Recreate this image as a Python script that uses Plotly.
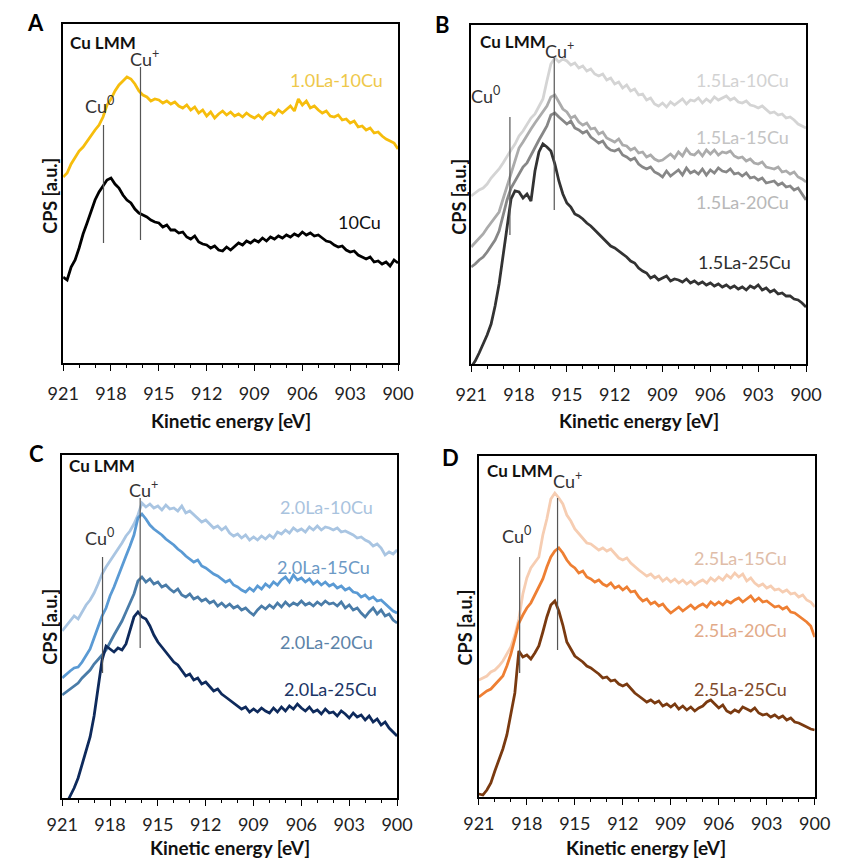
import plotly.graph_objects as go

FONT = "Lato"
W, H = 849, 864

# Kinetic energy grid (eV), 0.25 eV sampling from 921 down to 900
energy = [921.0 - 0.25 * i for i in range(85)]
tick_energies = [921, 918, 915, 912, 909, 906, 903, 900]

# ---------------- Panel A (CPS, a.u.) ----------------
A_1p0La_10Cu = [
    186, 190, 199, 205,
    212, 216, 222, 228,
    233, 238, 246, 258,
    264, 272, 278, 282,
    286, 284, 279, 272,
    268, 266, 262, 264,
    263, 260, 262, 259,
    261, 257, 255, 258,
    253, 256, 250, 253,
    247, 251, 245, 249,
    252, 248, 251, 247,
    249, 246, 250, 247,
    245, 248, 244, 249,
    251, 248, 253, 250,
    254, 257, 252, 264,
    258, 262, 255, 257,
    253, 250, 252, 247,
    246, 248, 243, 244,
    240, 242, 236, 237,
    233, 235, 230, 231,
    227, 224, 222, 220,
    214]
A_10Cu = [
    86, 83, 96, 103,
    115, 129, 140, 152,
    163, 171, 177, 183,
    185, 179, 175, 168,
    163, 160, 154, 150,
    148, 146, 143, 141,
    140, 136, 138, 133,
    133, 130, 131, 126,
    124, 127, 121, 119,
    118, 115, 117, 113,
    112, 116, 113, 117,
    120, 118, 122, 120,
    123, 121, 125, 122,
    126, 124, 127, 125,
    128, 126, 129, 127,
    131, 128, 130, 127,
    128, 125, 122, 121,
    118, 116, 117, 113,
    111, 112, 108, 106,
    104, 106, 101, 102,
    99, 101, 97, 103,
    100]

# ---------------- Panel B ----------------
B_1p5La_10Cu = [
    168, 171, 174, 176,
    180, 186, 190, 195,
    201, 208, 214, 220,
    228, 233, 240, 246,
    250, 258, 265, 283,
    300, 306, 302, 305,
    303, 299, 301, 296,
    298, 293, 295, 290,
    288, 290, 284, 286,
    280, 282, 276, 279,
    273, 275, 269, 270,
    264, 266, 260, 258,
    261, 257, 262, 259,
    262, 265, 260, 264,
    263, 266, 261, 265,
    262, 267, 264, 266,
    268, 264, 266, 262,
    261, 263, 259, 258,
    256, 258, 254, 251,
    252, 249, 250, 246,
    247, 244, 240, 238,
    236]
B_1p5La_15Cu = [
    117, 121, 126, 130,
    136, 141, 146, 152,
    165, 178, 190, 204,
    216, 222, 229, 235,
    241, 247, 253, 258,
    267, 269, 262, 255,
    252, 246, 248, 242,
    239, 241, 235, 236,
    230, 232, 226, 224,
    222, 225, 219, 218,
    214, 216, 211, 212,
    207, 209, 205, 203,
    204, 207, 210, 206,
    212, 208, 215, 210,
    209, 213, 208, 214,
    210, 214, 209, 212,
    211, 213, 208, 206,
    207, 203, 205, 201,
    200, 202, 197, 196,
    195, 197, 192, 193,
    190, 192, 187, 185,
    182]
B_1p5La_20Cu = [
    97, 100, 104, 107,
    112, 118, 124, 133,
    148, 164, 176, 183,
    190, 197, 201, 209,
    216, 224, 231, 238,
    249, 251, 247, 243,
    240, 243, 236, 234,
    231, 233, 227, 224,
    221, 223, 217, 214,
    213, 215, 209, 207,
    204, 206, 200, 197,
    195, 197, 192, 190,
    187, 193, 188, 191,
    194, 189, 196, 191,
    193, 190, 195, 189,
    194, 191, 196, 193,
    192, 195, 190, 191,
    188, 191, 186, 187,
    184, 186, 181, 182,
    183, 179, 181, 177,
    178, 174, 176, 170,
    164]
B_1p5La_25Cu = [
    -3, 3, 11, 20,
    29, 40, 58, 80,
    108, 140, 165, 173,
    172, 166, 170, 163,
    193, 212, 220, 217,
    213, 200, 183, 170,
    161, 157, 150, 148,
    145, 141, 138, 134,
    130, 127, 123, 118,
    116, 113, 110, 107,
    103, 101, 96, 93,
    91, 86, 88, 84,
    86, 88, 83, 85,
    84, 82, 85, 81,
    83, 80, 82, 79,
    81, 78, 80, 77,
    79, 76, 78, 75,
    77, 74, 78, 76,
    79, 74, 76, 72,
    74, 70, 71, 68,
    68, 65, 64, 61,
    57]

# ---------------- Panel C ----------------
C_2p0La_10Cu = [
    167, 172, 177, 182,
    179, 186, 193, 198,
    205, 214, 224, 231,
    237, 243, 248, 255,
    262, 267, 274, 283,
    295, 291, 294, 290,
    292, 288, 293, 289,
    290, 287, 292, 285,
    287, 283, 280, 276,
    278, 274, 270, 272,
    268, 271, 265, 262,
    264, 260, 263, 258,
    261, 258, 262, 259,
    263, 260, 266, 264,
    268, 265, 270, 267,
    269, 266, 271, 268,
    272, 268, 271, 270,
    268, 270, 266, 267,
    265, 263, 260, 261,
    258, 256, 252, 254,
    250, 243, 246, 244,
    248]
C_2p0La_15Cu = [
    120, 124, 127, 130,
    131, 136, 142, 149,
    160, 172, 182, 190,
    202, 211, 222, 232,
    242, 252, 263, 280,
    284, 279, 273, 269,
    266, 263, 259, 256,
    253, 249, 246, 242,
    239, 236, 238, 232,
    230, 227, 224, 222,
    219, 216, 218, 213,
    211, 208, 206, 210,
    207, 212, 209, 214,
    211, 216, 213, 218,
    221, 216, 223, 218,
    220, 216, 219, 214,
    217, 213, 216, 212,
    214, 210, 212, 208,
    210, 206, 205, 201,
    203, 199, 201, 197,
    198, 194, 190, 187,
    185]
C_2p0La_20Cu = [
    103, 106, 109, 112,
    115, 120, 124, 128,
    134, 138, 143, 148,
    156, 163, 170, 177,
    186, 196, 204, 217,
    221, 216, 219, 214,
    216, 211, 213, 209,
    206, 209, 203, 201,
    204, 199, 201, 197,
    199, 195, 197, 192,
    195, 191, 194, 190,
    192, 188, 190, 186,
    183, 188, 192, 189,
    193, 190, 195, 191,
    196, 192, 195, 193,
    197, 193, 195, 192,
    196, 193, 197, 194,
    195, 192, 196, 190,
    193, 188, 190, 185,
    181, 186, 190, 184,
    188, 182, 184, 178,
    175]
C_2p0La_25Cu = [
    -12, -6, 2, 10,
    20, 33, 46, 61,
    82, 108, 138, 152,
    149, 146, 150, 148,
    154, 168, 181, 186,
    181, 179, 172, 163,
    156, 151, 146, 140,
    136, 133, 128, 122,
    124, 118, 120, 114,
    116, 112, 107, 109,
    104, 101, 98, 95,
    92, 89, 91, 86,
    89, 86, 90, 87,
    85, 90, 86, 91,
    87, 92, 89, 94,
    90, 87, 91, 86,
    88, 84, 89, 85,
    86, 82, 87, 84,
    80, 85, 81, 83,
    78, 82, 76, 79,
    73, 76, 70, 66,
    62]

# ---------------- Panel D ----------------
D_2p5La_15Cu = [
    117, 119, 121, 125,
    127, 131, 136, 143,
    150, 162, 178, 203,
    219, 229, 235, 240,
    262, 278, 298, 304,
    299, 293, 282, 276,
    268, 263, 259, 254,
    253, 250, 247, 249,
    246, 248, 243, 239,
    237, 239, 234, 230,
    227, 224, 221, 223,
    219, 221, 216, 219,
    215, 218, 214, 217,
    213, 216, 212, 215,
    217, 214, 219, 216,
    220, 217, 222, 219,
    224, 220, 223, 216,
    219, 214, 211, 213,
    209, 211, 207, 208,
    205, 207, 203, 204,
    200, 202, 197, 195,
    190]
D_2p5La_20Cu = [
    100, 103, 106, 108,
    112, 116, 121, 131,
    143, 158, 174, 182,
    189, 194, 202, 209,
    218, 230, 240, 246,
    249, 244, 237, 232,
    229, 224, 226, 220,
    218, 215, 217, 213,
    211, 214, 209, 211,
    207, 210, 205, 206,
    200, 196, 198, 193,
    195, 191, 193, 188,
    184, 187, 190, 186,
    189, 192, 188, 191,
    193, 190, 195, 192,
    195, 192, 196, 194,
    197, 199, 195, 198,
    201, 196, 199, 195,
    196, 193, 190, 191,
    188, 190, 185, 184,
    181, 178, 175, 171,
    160]
D_2p5La_25Cu = [
    3, 2, 7, 14,
    26, 37, 48, 62,
    83, 104, 146, 140,
    142, 138, 144, 151,
    165, 180, 192, 196,
    186, 172, 155, 148,
    141, 138, 135, 131,
    129, 126, 123, 119,
    120, 116, 117, 113,
    111, 113, 108, 104,
    101, 98, 95, 97,
    94, 96, 91, 93,
    90, 93, 88, 91,
    87, 90, 86, 89,
    91, 95, 97, 93,
    89, 92, 86, 84,
    87, 85, 90, 88,
    86, 89, 84, 82,
    83, 80, 82, 79,
    81, 77, 79, 75,
    74, 72, 70, 68,
    67]

# Peak markers: [energy (eV), y_low, y_high]
A_Cu0, A_Cup = [918.47, 120, 238], [916.15, 123, 296]
B_Cu0, B_Cup = [918.57, 129, 247], [915.79, 154, 306]
C_Cu0, C_Cup = [918.47, 125, 241], [916.11, 150, 300]
D_Cu0, D_Cup = [918.45, 124, 240], [916.08, 147, 299]

panels = [
    dict(letter="A", box=(49, 24, 397, 363), letter_xy=(20, 23), standoff=8,
         series=[("1.0La-10Cu", A_1p0La_10Cu, "#F6BD0C", "#EEC84A", 903.86, 283),
                 ("10Cu", A_10Cu, "#000000", "#111111", 902.4, 141)],
         cu0=A_Cu0, cup=A_Cup, lmm=(920.7, 321), cu0_txt=(918.7, 258), cup_txt=(915.87, 305),
         xt=(223, 420), yt=(35, 196)),
    dict(letter="B", box=(473, 25, 821, 364), letter_xy=(443, 24), standoff=8,
         series=[("1.5La-10Cu", B_1p5La_10Cu, "#D4D4D4", "#D2D2D2", 903.98, 284),
                 ("1.5La-15Cu", B_1p5La_15Cu, "#ABABAB", "#C4C4C4", 903.98, 227),
                 ("1.5La-20Cu", B_1p5La_20Cu, "#878787", "#B8B8B8", 903.98, 162),
                 ("1.5La-25Cu", B_1p5La_25Cu, "#333333", "#2E2E2E", 903.86, 102)],
         cu0=B_Cu0, cup=B_Cup, lmm=(920.58, 323), cu0_txt=(920.1, 269), cup_txt=(915.45, 314),
         xt=(647, 420), yt=(460, 197)),
    dict(letter="C", box=(48, 455, 396, 798), letter_xy=(21, 453), standoff=4,
         series=[("2.0La-10Cu", C_2p0La_10Cu, "#A9C5E2", "#A9C3DE", 904.4, 291),
                 ("2.0La-15Cu", C_2p0La_15Cu, "#5A9AD4", "#6C9AC6", 904.6, 231),
                 ("2.0La-20Cu", C_2p0La_20Cu, "#4A7CA8", "#5C83A8", 904.4, 156),
                 ("2.0La-25Cu", C_2p0La_25Cu, "#0E2A5C", "#1B3566", 904.2, 109)],
         cu0=C_Cu0, cup=C_Cup, lmm=(920.7, 333), cu0_txt=(918.65, 261), cup_txt=(915.93, 309),
         xt=(222, 847), yt=(35, 627)),
    dict(letter="D", box=(481, 456, 830, 797), letter_xy=(452, 457), standoff=4,
         series=[("2.5La-15Cu", D_2p5La_15Cu, "#F6CDB2", "#E0BDA8", 904.63, 239),
                 ("2.5La-20Cu", D_2p5La_20Cu, "#EE7F33", "#E2AA88", 904.63, 167),
                 ("2.5La-25Cu", D_2p5La_25Cu, "#7A3A10", "#7F4A2A", 904.63, 108)],
         cu0=D_Cu0, cup=D_Cup, lmm=(920.64, 327), cu0_txt=(918.65, 262), cup_txt=(915.46, 317),
         xt=(655, 847), yt=(467, 627)),
]

fig = go.Figure()
layout = {}
annotations = []
shapes = []

for idx, p in enumerate(panels):
    n = "" if idx == 0 else str(idx + 1)
    xa, ya = "x" + n, "y" + n
    left, top, right, bottom = p["box"]
    for name, vals, color, _, _, _ in p["series"]:
        fig.add_trace(go.Scatter(x=energy, y=vals, mode="lines", name=name,
                                 line=dict(color=color, width=2.8),
                                 xaxis=xa, yaxis=ya, showlegend=False))
    layout["xaxis" + n] = dict(
        domain=[left / W, right / W], range=[921, 900], anchor=ya,
        tickmode="array", tickvals=tick_energies, ticktext=[str(t) for t in tick_energies],
        ticks="outside", ticklen=6, tickwidth=1.3, tickcolor="black",
        minor=dict(tickmode="linear", tick0=900, dtick=1, ticks="outside",
                   ticklen=3, tickwidth=1, tickcolor="black"),
        showline=True, linecolor="black", linewidth=1.6, mirror=True,
        showgrid=False, zeroline=False, ticklabelstandoff=p["standoff"],
        tickfont=dict(family=FONT, size=18, color="#222222"))
    layout["yaxis" + n] = dict(
        domain=[1 - bottom / H, 1 - top / H], range=[0, bottom - top], anchor=xa,
        showticklabels=False, ticks="", showline=True, linecolor="black",
        linewidth=1.6, mirror=True, showgrid=False, zeroline=False)

    # series labels
    for name, _, _, lcolor, lx, ly in p["series"]:
        annotations.append(dict(x=lx, y=ly, xref=xa, yref=ya, text=name, showarrow=False,
                                xanchor="center", yanchor="middle",
                                font=dict(family=FONT, size=18, color=lcolor)))
    # Cu LMM and peak labels
    annotations.append(dict(x=p["lmm"][0], y=p["lmm"][1], xref=xa, yref=ya, text="<b>Cu LMM</b>",
                            showarrow=False, xanchor="left", yanchor="middle",
                            font=dict(family=FONT, size=17, color="#111111")))
    annotations.append(dict(x=p["cu0_txt"][0], y=p["cu0_txt"][1], xref=xa, yref=ya,
                            text="Cu<sup>0</sup>", showarrow=False,
                            xanchor="center", yanchor="middle",
                            font=dict(family=FONT, size=18, color="#333333")))
    annotations.append(dict(x=p["cup_txt"][0], y=p["cup_txt"][1], xref=xa, yref=ya,
                            text="Cu<sup>+</sup>", showarrow=False,
                            xanchor="center", yanchor="middle",
                            font=dict(family=FONT, size=18, color="#333333")))
    # peak marker lines
    for m in (p["cu0"], p["cup"]):
        shapes.append(dict(type="line", xref=xa, yref=ya, x0=m[0], x1=m[0], y0=m[1], y1=m[2],
                           line=dict(color="#555555", width=1.2), layer="above"))
    # panel letter
    annotations.append(dict(x=p["letter_xy"][0] / W, y=1 - p["letter_xy"][1] / H,
                            xref="paper", yref="paper", text="<b>%s</b>" % p["letter"],
                            showarrow=False, xanchor="center", yanchor="middle",
                            font=dict(family=FONT, size=22, color="black")))
    # axis titles
    annotations.append(dict(x=p["xt"][0] / W, y=1 - p["xt"][1] / H, xref="paper", yref="paper",
                            text="<b>Kinetic energy [eV]</b>", showarrow=False,
                            xanchor="center", yanchor="middle",
                            font=dict(family=FONT, size=19, color="#111111")))
    annotations.append(dict(x=p["yt"][0] / W, y=1 - p["yt"][1] / H, xref="paper", yref="paper",
                            text="<b>CPS [a.u.]</b>", showarrow=False, textangle=-90,
                            xanchor="center", yanchor="middle",
                            font=dict(family=FONT, size=18, color="#111111")))

fig.update_layout(**layout)
fig.update_layout(width=W, height=H, margin=dict(l=0, r=0, t=0, b=0),
                  paper_bgcolor="white", plot_bgcolor="white",
                  annotations=annotations, shapes=shapes,
                  font=dict(family=FONT))
fig.write_html("out.html")
